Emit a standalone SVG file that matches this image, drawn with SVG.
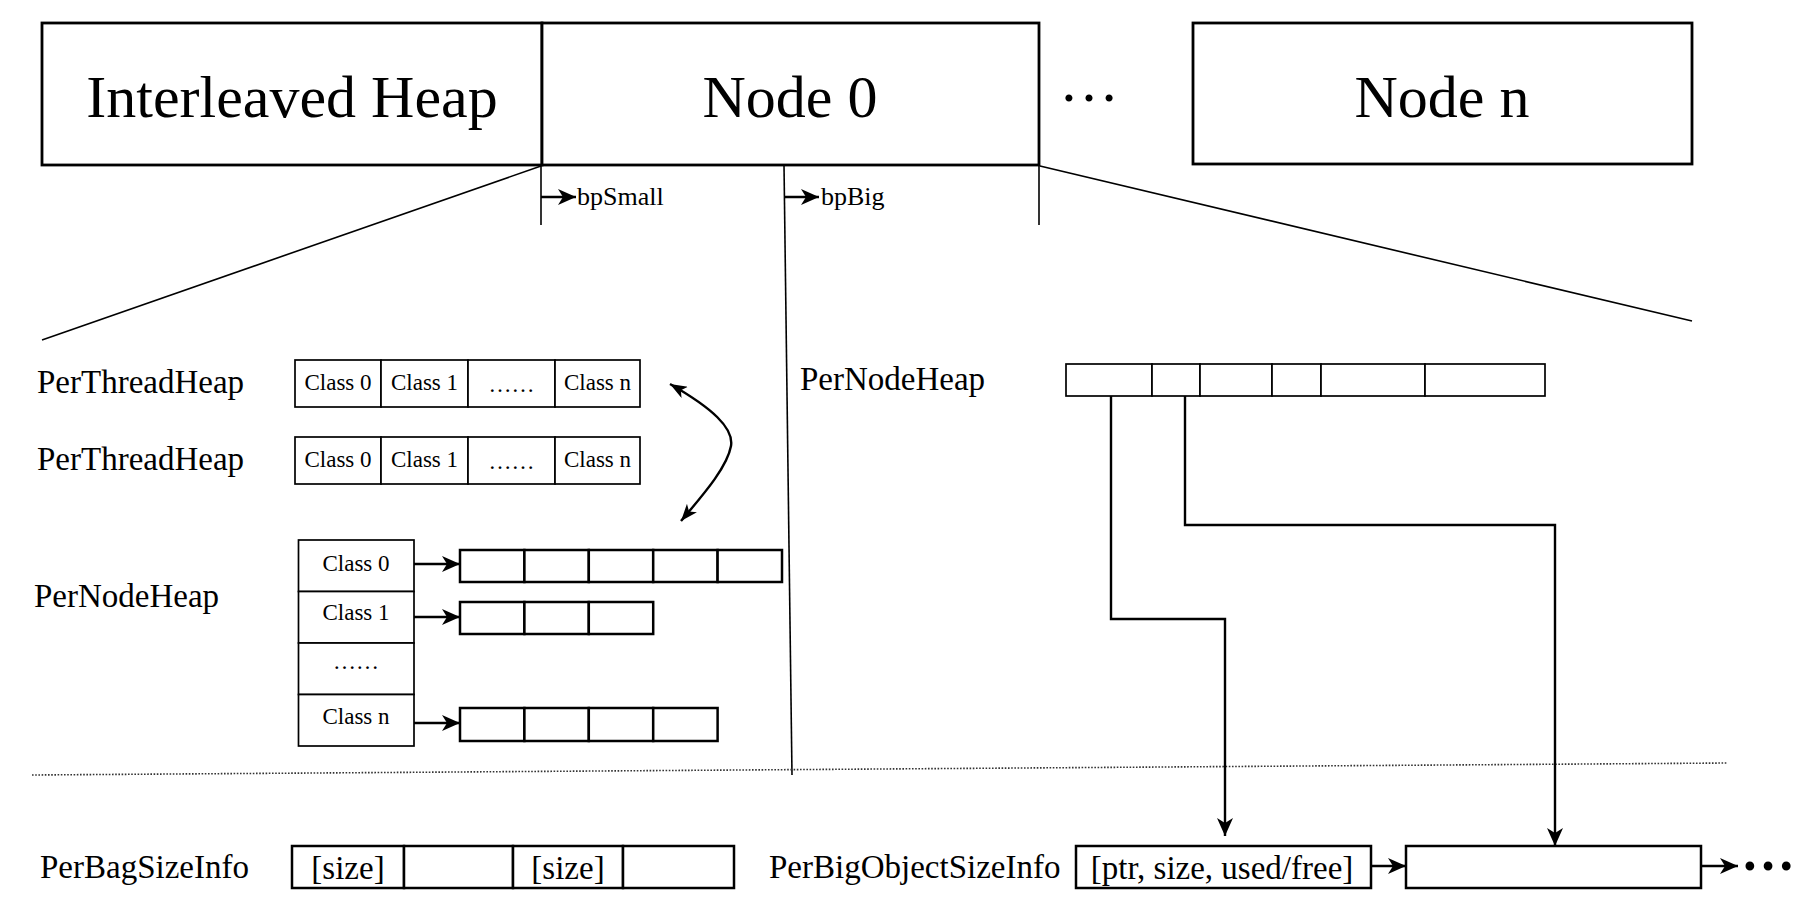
<svg xmlns="http://www.w3.org/2000/svg" width="1800" height="910" viewBox="0 0 1800 910">
<style>
  text { font-family: "Liberation Serif", "Times New Roman", serif; fill: #000; }
  .big { font-size: 60px; text-anchor: middle; }
  .lbl { font-size: 33px; }
  .cls { font-size: 23px; text-anchor: middle; }
  .bp { font-size: 26px; }
  .mid { text-anchor: middle; }
  .top { fill: #fff; stroke: #000; stroke-width: 2.8; }
  .cell { fill: #fff; stroke: #000; stroke-width: 1.7; }
  .arr { fill: #fff; stroke: #000; stroke-width: 2.5; }
  .ln { fill: none; stroke: #000; stroke-width: 1.6; }
  .conn { fill: none; stroke: #000; stroke-width: 2.4; }
  .dot { fill: none; stroke: #333; stroke-width: 1.6; stroke-dasharray: 1.6 1.6; }
</style>
<defs>
  <marker id="ah" viewBox="0 0 18 16" refX="18" refY="8" markerWidth="18" markerHeight="16" markerUnits="userSpaceOnUse" orient="auto">
    <path d="M0,0 L18,8 L0,16 L5,8 z" fill="#000"/>
  </marker>
  <marker id="ahs" viewBox="0 0 17 13" refX="17" refY="6.5" markerWidth="17" markerHeight="13" markerUnits="userSpaceOnUse" orient="auto-start-reverse">
    <path d="M0,0 L17,6.5 L0,13 L4.5,6.5 z" fill="#000"/>
  </marker>
</defs>

<g id="interleaved-heap">
  <rect class="top" x="42" y="23" width="500" height="142"/>
  <text class="big" x="292" y="117">Interleaved Heap</text>
</g>
<g id="node-0">
  <rect class="top" x="542" y="23" width="497" height="142"/>
  <text class="big" x="790" y="117">Node 0</text>
</g>
<g id="top-ellipsis">
  <text class="big" x="1089" y="101">…</text>
</g>
<g id="node-n">
  <rect class="top" x="1193" y="23" width="499" height="141"/>
  <text class="big" x="1442" y="117">Node n</text>
</g>

<g id="node0-expansion">
  <line class="ln" x1="541" y1="166" x2="42" y2="340"/>
  <line class="ln" x1="1040" y1="166" x2="1692" y2="321"/>
  <line class="ln" x1="541" y1="165" x2="541" y2="225"/>
  <line class="ln" x1="784" y1="165" x2="792" y2="775"/>
  <line class="ln" x1="1039" y1="165" x2="1039" y2="225"/>
  <line class="dot" x1="32" y1="775" x2="1728" y2="763"/>
</g>

<g id="bpSmall">
  <line class="conn" x1="541" y1="197" x2="576" y2="197" marker-end="url(#ah)"/>
  <text class="bp" x="577" y="205">bpSmall</text>
</g>
<g id="bpBig">
  <line class="conn" x1="784" y1="197" x2="819" y2="197" marker-end="url(#ah)"/>
  <text class="bp" x="821" y="205">bpBig</text>
</g>

<g id="per-thread-heap-1">
  <text class="lbl" x="37" y="393">PerThreadHeap</text>
  <rect class="cell" x="295" y="360" width="86" height="47"/>
  <rect class="cell" x="381" y="360" width="87" height="47"/>
  <rect class="cell" x="468" y="360" width="87" height="47"/>
  <rect class="cell" x="555" y="360" width="85" height="47"/>
  <text class="cls" x="338" y="390">Class 0</text>
  <text class="cls" x="424.5" y="390">Class 1</text>
  <text class="cls" x="511.5" y="392">……</text>
  <text class="cls" x="597.5" y="390">Class n</text>
</g>
<g id="per-thread-heap-2">
  <text class="lbl" x="37" y="470">PerThreadHeap</text>
  <rect class="cell" x="295" y="437" width="86" height="47"/>
  <rect class="cell" x="381" y="437" width="87" height="47"/>
  <rect class="cell" x="468" y="437" width="87" height="47"/>
  <rect class="cell" x="555" y="437" width="85" height="47"/>
  <text class="cls" x="338" y="467">Class 0</text>
  <text class="cls" x="424.5" y="467">Class 1</text>
  <text class="cls" x="511.5" y="469">……</text>
  <text class="cls" x="597.5" y="467">Class n</text>
</g>

<g id="per-node-heap-small">
  <text class="lbl" x="34" y="607">PerNodeHeap</text>
  <rect class="cell" x="298.5" y="540" width="115.5" height="51.5"/>
  <rect class="cell" x="298.5" y="591.5" width="115.5" height="51.5"/>
  <rect class="cell" x="298.5" y="643" width="115.5" height="51.5"/>
  <rect class="cell" x="298.5" y="694.5" width="115.5" height="51.5"/>
  <text class="cls" x="356" y="571">Class 0</text>
  <text class="cls" x="356" y="620">Class 1</text>
  <text class="cls" x="356" y="669">……</text>
  <text class="cls" x="356" y="724">Class n</text>
</g>
<g id="class0-list">
  <rect class="arr" x="460" y="550" width="64.4" height="32"/>
  <rect class="arr" x="524.4" y="550" width="64.4" height="32"/>
  <rect class="arr" x="588.8" y="550" width="64.4" height="32"/>
  <rect class="arr" x="653.2" y="550" width="64.4" height="32"/>
  <rect class="arr" x="717.6" y="550" width="64.4" height="32"/>
</g>
<g id="class1-list">
  <rect class="arr" x="460" y="602" width="64.4" height="32"/>
  <rect class="arr" x="524.4" y="602" width="64.4" height="32"/>
  <rect class="arr" x="588.8" y="602" width="64.4" height="32"/>
</g>
<g id="classn-list">
  <rect class="arr" x="460" y="708" width="64.4" height="33"/>
  <rect class="arr" x="524.4" y="708" width="64.4" height="33"/>
  <rect class="arr" x="588.8" y="708" width="64.4" height="33"/>
  <rect class="arr" x="653.2" y="708" width="64.4" height="33"/>
</g>

<g id="per-node-heap-big">
  <text class="lbl" x="800" y="390">PerNodeHeap</text>
  <rect class="cell" x="1066" y="364" width="86" height="32"/>
  <rect class="cell" x="1152" y="364" width="48" height="32"/>
  <rect class="cell" x="1200" y="364" width="72" height="32"/>
  <rect class="cell" x="1272" y="364" width="49" height="32"/>
  <rect class="cell" x="1321" y="364" width="104" height="32"/>
  <rect class="cell" x="1425" y="364" width="120" height="32"/>
</g>

<g id="per-bag-size-info">
  <text class="lbl" x="40" y="878">PerBagSizeInfo</text>
  <rect class="arr" x="292" y="846" width="112" height="42"/>
  <rect class="arr" x="404" y="846" width="109" height="42"/>
  <rect class="arr" x="513" y="846" width="110" height="42"/>
  <rect class="arr" x="623" y="846" width="111" height="42"/>
  <text class="lbl mid" x="348" y="879">[size]</text>
  <text class="lbl mid" x="568" y="879">[size]</text>
</g>
<g id="per-big-object-size-info">
  <text class="lbl" x="769" y="878">PerBigObjectSizeInfo</text>
  <rect class="arr" x="1076" y="846" width="295" height="42"/>
  <text class="lbl mid" x="1222" y="879">[ptr, size, used/free]</text>
</g>
<g id="big-object-next">
  <rect class="arr" x="1406" y="846" width="295" height="42"/>
</g>
<g id="bottom-ellipsis">
  <text x="1741" y="870" style="font-size:54px;font-weight:bold">…</text>
</g>

<g id="connectors">
  <path class="conn" d="M670,384 C712,408 734,428 731,446 C727,468 702,496 681,521" stroke-width="2.2" marker-start="url(#ahs)" marker-end="url(#ahs)"/>
  <line class="conn" x1="414" y1="564" x2="460" y2="564" marker-end="url(#ah)"/>
  <line class="conn" x1="414" y1="617" x2="460" y2="617" marker-end="url(#ah)"/>
  <line class="conn" x1="414" y1="723" x2="460" y2="723" marker-end="url(#ah)"/>
  <path class="conn" d="M1111,396 V619 H1225 V836" marker-end="url(#ah)"/>
  <path class="conn" d="M1185,396 V525 H1555 V846" marker-end="url(#ah)"/>
  <line class="conn" x1="1371" y1="866" x2="1406" y2="866" marker-end="url(#ah)"/>
  <line class="conn" x1="1701" y1="866" x2="1738" y2="866" marker-end="url(#ah)"/>
</g>
</svg>
